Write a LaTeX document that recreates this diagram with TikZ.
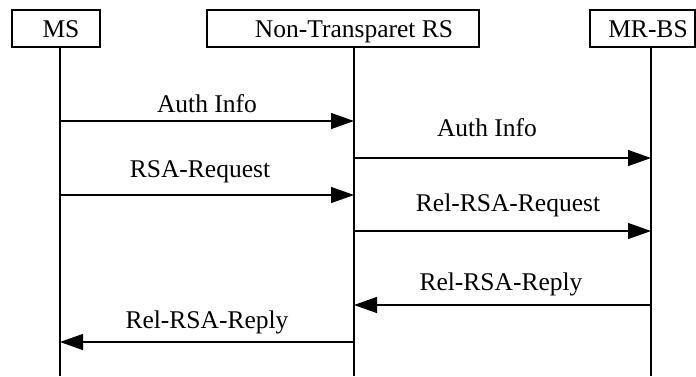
\documentclass[tikz,border=0pt]{standalone}
\usepackage{fontspec}
\setmainfont{Liberation Serif}
\usetikzlibrary{arrows.meta}

\tikzset{
  entity/.style={draw, line width=1.3pt, inner sep=0pt},
  lbl/.style={inner sep=0pt, anchor=base, font=\fontsize{25.5}{28}\selectfont},
  lifeline/.style={line width=1.3pt},
  msg/.style={line width=1.3pt, -{Triangle[length=23pt,width=16pt]}},
}

\begin{document}
\begin{tikzpicture}[x=1pt, y=-1pt]
  \useasboundingbox (0,0) rectangle (696,376);

  % participant boxes
  \node[entity, minimum width=88pt, minimum height=37pt] (ms) at (56,28.5) {};
  \node[entity, minimum width=272pt, minimum height=37pt] (rs) at (343,28.5) {};
  \node[entity, minimum width=105pt, minimum height=37pt] (bs) at (642.5,28.5) {};
  \node[lbl] (msT) at (61,37) {MS};
  \node[lbl] (rsT) at (354,37) {Non-Transparet RS};
  \node[lbl] (bsT) at (648,37) {MR-BS};

  % lifeline positions
  \coordinate (msX) at (60,0);
  \coordinate (rsX) at (354,0);
  \coordinate (bsX) at (651,0);
  \coordinate (bot) at (0,376);

  \draw[lifeline] (ms.south -| msX) -- (bot -| msX);
  \draw[lifeline] (rs.south -| rsX) -- (bot -| rsX);
  \draw[lifeline] (bs.south -| bsX) -- (bot -| bsX);

  % message rows
  \coordinate (m1) at (0,121);
  \coordinate (m2) at (0,158);
  \coordinate (m3) at (0,195);
  \coordinate (m4) at (0,231);
  \coordinate (m5) at (0,305);
  \coordinate (m6) at (0,342);

  \draw[msg] (msX |- m1) -- (rsX |- m1);
  \node[lbl] (l1) at (207,112) {Auth Info};

  \draw[msg] (rsX |- m2) -- (bsX |- m2);
  \node[lbl] (l2) at (487,136) {Auth Info};

  \draw[msg] (msX |- m3) -- (rsX |- m3);
  \node[lbl] (l3) at (200,177) {RSA-Request};

  \draw[msg] (rsX |- m4) -- (bsX |- m4);
  \node[lbl] (l4) at (508,211) {Rel-RSA-Request};

  \draw[msg] (bsX |- m5) -- (rsX |- m5);
  \node[lbl] (l5) at (501,290) {Rel-RSA-Reply};

  \draw[msg] (rsX |- m6) -- (msX |- m6);
  \node[lbl] (l6) at (207,328) {Rel-RSA-Reply};
\end{tikzpicture}
\end{document}
